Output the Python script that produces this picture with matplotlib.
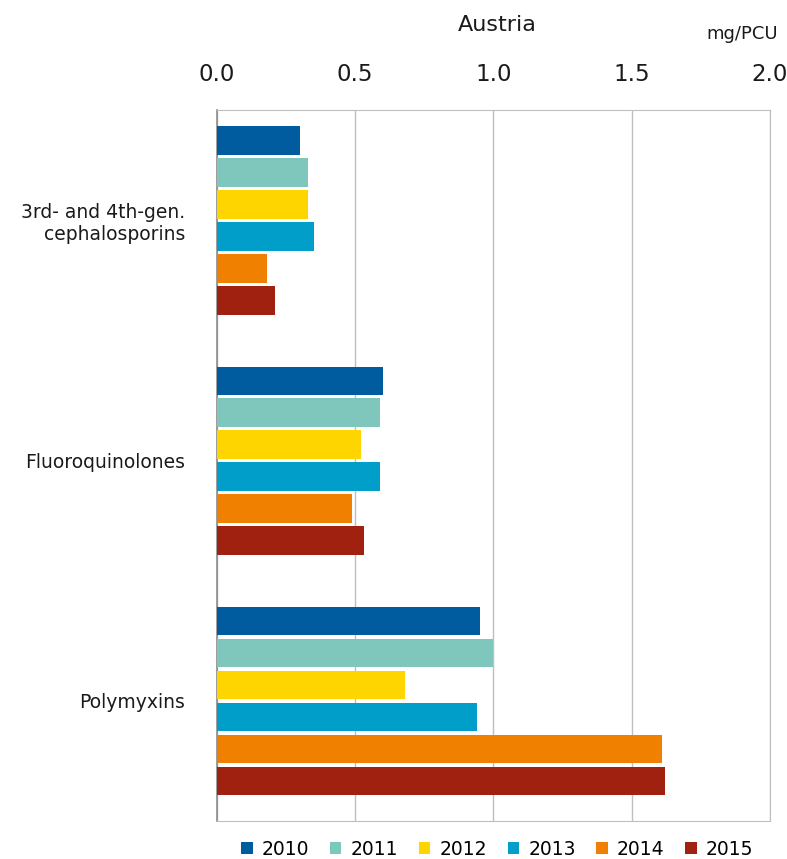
import matplotlib
matplotlib.use('Agg')
from matplotlib import pyplot as plt
from matplotlib.patches import Patch
import numpy as np

categories = ['3rd- and 4th-gen.\ncephalosporins', 'Fluoroquinolones', 'Polymyxins']
years = ['2010', '2011', '2012', '2013', '2014', '2015']
colors = ['#005c9e', '#7fc6bd', '#ffd500', '#009ec8', '#f08100', '#a0210f']

v2010 = [0.30, 0.60, 0.95]
v2011 = [0.33, 0.59, 1.00]
v2012 = [0.33, 0.52, 0.68]
v2013 = [0.35, 0.59, 0.94]
v2014 = [0.18, 0.49, 1.61]
v2015 = [0.21, 0.53, 1.62]
series = [v2010, v2011, v2012, v2013, v2014, v2015]

plt.rcParams['font.family'] = 'DejaVu Sans'

fig = plt.figure(figsize=(7.87, 8.59), dpi=100)
ax = fig.add_axes([0.2757, 0.0442, 0.7027, 0.8278])

pitch = 0.133
height = 0.119
ypos = np.arange(len(categories))
for j, (vals, c) in enumerate(zip(series, colors)):
    ax.barh(ypos + (j - 2.5) * pitch, vals, height=height, color=c, zorder=3)

ax.set_xlim(0, 2.0)
ax.set_ylim(2.5, -0.46)
ax.set_xticks([0.0, 0.5, 1.0, 1.5, 2.0])
ax.set_xticklabels(['0.0', '0.5', '1.0', '1.5', '2.0'])
ax.xaxis.tick_top()
ax.tick_params(axis='x', length=0, pad=17, labelsize=16.5, colors='#1a1a1a')
ax.set_yticks(ypos)
ax.set_yticklabels(categories)
ax.tick_params(axis='y', length=0, pad=23, labelsize=13.5, colors='#1a1a1a')

ax.grid(axis='x', color='#bfbfbf', linewidth=1, zorder=0)
for s in ['top', 'right', 'bottom']:
    ax.spines[s].set_color('#bfbfbf')
ax.spines['left'].set_color('#8c8c8c')
ax.spines['left'].set_linewidth(1.2)

fig.text(0.632, 0.971, 'Austria', ha='center', va='center', fontsize=16, color='#1a1a1a')
fig.text(0.988, 0.961, 'mg/PCU', ha='right', va='center', fontsize=13, color='#1a1a1a')

handles = [Patch(facecolor=c, edgecolor='none') for c in colors]
fig.legend(handles, years, loc='center', bbox_to_anchor=(0.632, 0.011), ncol=6,
           frameon=False, fontsize=13.5, handlelength=0.6, handleheight=0.6,
           handletextpad=0.5, columnspacing=1.1, borderaxespad=0, borderpad=0)

fig.savefig('out.png', dpi=100)
